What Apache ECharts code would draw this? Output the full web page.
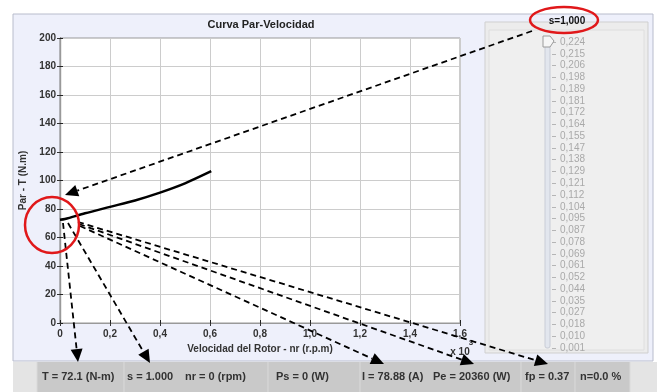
<!DOCTYPE html>
<html>
<head>
<meta charset="utf-8">
<script src="https://cdn.jsdelivr.net/npm/echarts@6/dist/echarts.min.js"></script>
<style>
  html, body { margin: 0; padding: 0; background: #fff; }
  #chart { width: 657px; height: 392px; }
</style>
</head>
<body>
<div id="chart"></div>
<script>
// curva par-velocidad (x en miles de rpm, y en N.m)
const speed = [0, 0.02, 0.1, 0.2, 0.3, 0.4, 0.5, 0.605];
const torque = [72.5, 73, 77, 81.5, 86, 91.5, 98, 106.5];

const sliderLabels = ['0,224', '0,215', '0,206', '0,198', '0,189', '0,181', '0,172', '0,164', '0,155',
  '0,147', '0,138', '0,129', '0,121', '0,112', '0,104', '0,095', '0,087', '0,078', '0,069', '0,061',
  '0,052', '0,044', '0,035', '0,027', '0,018', '0,010', '0,001'];

const statusTexts = ['T = 72.1 (N-m)', 's = 1.000', 'nr = 0 (rpm)', 'Ps = 0 (W)',
  'I = 78.88 (A)', 'Pe = 20360 (W)', 'fp = 0.37', 'n=0.0 %'];
const statusX = [42, 127, 185, 276, 362, 433, 525, 580];

const FONT = 'Liberation Sans';
const chart = echarts.init(document.getElementById('chart'));

// flecha discontinua con punta triangular
function arrow(x1, y1, x2, y2) {
  const a = Math.atan2(y2 - y1, x2 - x1);
  const len = 13, w = 6;
  const bx = x2 - len * Math.cos(a), by = y2 - len * Math.sin(a);
  return [
    {
      type: 'line', z: 100,
      shape: { x1: x1, y1: y1, x2: bx, y2: by },
      style: { stroke: '#000', lineWidth: 1.8, lineDash: [6, 4] }
    },
    {
      type: 'polygon', z: 100,
      shape: { points: [[x2, y2], [bx + w * Math.sin(a), by - w * Math.cos(a)], [bx - w * Math.sin(a), by + w * Math.cos(a)]] },
      style: { fill: '#000' }
    }
  ];
}

const graphics = [
  // paneles de fondo
  { type: 'rect', z: -10, shape: { x: 13, y: 14, width: 640, height: 347 }, style: { fill: '#eef0fb', stroke: '#b8bccc', lineWidth: 1 } },
  { type: 'rect', z: -9, shape: { x: 485, y: 22, width: 163, height: 331 }, style: { fill: '#ececec', stroke: '#cfcfcf', lineWidth: 1 } },
  { type: 'rect', z: -8, shape: { x: 489, y: 30, width: 155, height: 320 }, style: { fill: '#efefef', stroke: '#dedede', lineWidth: 1 } },
  // barra de estado
  { type: 'rect', z: -10, shape: { x: 13, y: 362, width: 644, height: 30 }, style: { fill: '#c9c9c9' } },
  { type: 'rect', z: -9, shape: { x: 13, y: 362, width: 24, height: 30 }, style: { fill: '#e4e4e4' } },
  { type: 'rect', z: -9, shape: { x: 630, y: 362, width: 27, height: 30 }, style: { fill: '#e4e4e4' } },
  // pista del deslizador
  { type: 'rect', z: 5, shape: { x: 545, y: 42, width: 5, height: 306, r: 2 }, style: { fill: '#e2e6ee', stroke: '#c8ccd6', lineWidth: 1 } },
  { type: 'polygon', z: 6, shape: { points: [[543, 36], [550, 36], [554, 41], [550, 47], [543, 47]] }, style: { fill: '#f6f6f6', stroke: '#9a9a9a', lineWidth: 1 } },
  // titulo
  { type: 'text', z: 10, x: 261, y: 25, style: { text: 'Curva Par-Velocidad', font: 'bold 11px ' + FONT, fill: '#222', align: 'center', verticalAlign: 'middle' } },
  { type: 'text', z: 10, x: 567, y: 21, style: { text: 's=1,000', font: 'bold 10px ' + FONT, fill: '#111', align: 'center', verticalAlign: 'middle' } },
  // factor de escala del eje x
  { type: 'text', z: 10, x: 460, y: 352, style: { text: 'x 10', font: 'bold 10px ' + FONT, fill: '#333', align: 'center', verticalAlign: 'middle' } },
  { type: 'text', z: 10, x: 471, y: 343, style: { text: '3', font: 'bold 8px ' + FONT, fill: '#333', align: 'center', verticalAlign: 'middle' } },
  // circulos rojos
  { type: 'ellipse', z: 110, shape: { cx: 52, cy: 225, rx: 27, ry: 28 }, style: { fill: 'none', stroke: '#e0181a', lineWidth: 2.5 } },
  { type: 'ellipse', z: 110, shape: { cx: 564, cy: 20, rx: 34, ry: 13 }, style: { fill: 'none', stroke: '#e0181a', lineWidth: 2.5 } }
];

[37, 124, 268, 360, 521, 575, 630].forEach(function (x) {
  graphics.push({ type: 'line', z: -8, shape: { x1: x, y1: 362, x2: x, y2: 392 }, style: { stroke: '#dadada', lineWidth: 1 } });
});
statusTexts.forEach(function (t, i) {
  graphics.push({ type: 'text', z: 10, x: statusX[i], y: 377, style: { text: t, font: 'bold 11px ' + FONT, fill: '#333', verticalAlign: 'middle' } });
});

[
  [532, 31, 65, 195],
  [63, 223, 78, 362],
  [68, 223, 150, 363],
  [80, 226, 384, 364],
  [79, 224, 474, 364],
  [78, 222, 548, 364]
].forEach(function (p) {
  arrow(p[0], p[1], p[2], p[3]).forEach(function (g) { graphics.push(g); });
});

const axisText = { color: '#333', fontFamily: FONT, fontWeight: 'bold', fontSize: 10 };

const option = {
  animation: false,
  backgroundColor: '#fff',
  grid: [
    { left: 60, top: 38, width: 400, height: 285, show: true, backgroundColor: '#fff', borderColor: '#999', borderWidth: 1 },
    { left: 552, top: 42, width: 5, height: 306 }
  ],
  xAxis: [
    {
      type: 'value', gridIndex: 0, min: 0, max: 1.6, interval: 0.2,
      name: 'Velocidad del Rotor - nr (r.p.m)', nameLocation: 'middle', nameGap: 17,
      nameTextStyle: axisText,
      axisLine: { lineStyle: { color: '#222', width: 1.2 } },
      axisTick: { inside: true, length: 3, lineStyle: { color: '#222' } },
      axisLabel: Object.assign({ margin: 6, formatter: function (v) { return v === 0 ? '0' : v.toFixed(1).replace('.', ','); } }, axisText),
      splitLine: { lineStyle: { color: '#cccccc', width: 1 } }
    },
    {
      type: 'value', gridIndex: 0, position: 'top', min: 0, max: 1.6, interval: 0.2,
      axisLine: { lineStyle: { color: '#999' } },
      axisTick: { inside: true, length: 3, lineStyle: { color: '#333' } },
      axisLabel: { show: false }, splitLine: { show: false }
    },
    { type: 'value', gridIndex: 1, show: false }
  ],
  yAxis: [
    {
      type: 'value', gridIndex: 0, min: 0, max: 200, interval: 20,
      name: 'Par - T (N.m)', nameLocation: 'middle', nameGap: 28, nameRotate: 90,
      nameTextStyle: axisText,
      axisLine: { lineStyle: { color: '#222', width: 1.2 } },
      axisTick: { inside: true, length: 3, lineStyle: { color: '#222' } },
      axisLabel: Object.assign({ margin: 4 }, axisText),
      splitLine: { lineStyle: { color: '#cccccc', width: 1 } }
    },
    {
      type: 'value', gridIndex: 0, position: 'right', min: 0, max: 200, interval: 20,
      axisLine: { lineStyle: { color: '#999' } },
      axisTick: { inside: true, length: 3, lineStyle: { color: '#333' } },
      axisLabel: { show: false }, splitLine: { show: false }
    },
    {
      type: 'category', gridIndex: 1, position: 'right', inverse: true, boundaryGap: false,
      data: sliderLabels,
      axisLine: { show: false },
      axisTick: { length: 4, lineStyle: { color: '#b5b5b5' } },
      axisLabel: { color: '#a9a9a9', fontFamily: FONT, fontSize: 10, margin: 3, interval: 0 },
      splitLine: { show: false }
    }
  ],
  series: [
    {
      type: 'line', xAxisIndex: 0, yAxisIndex: 0, smooth: 0.3, showSymbol: false,
      lineStyle: { color: '#000', width: 2.5 },
      data: speed.map(function (x, i) { return [x, torque[i]]; })
    }
  ],
  graphic: graphics
};

chart.setOption(option);
</script>
</body>
</html>
